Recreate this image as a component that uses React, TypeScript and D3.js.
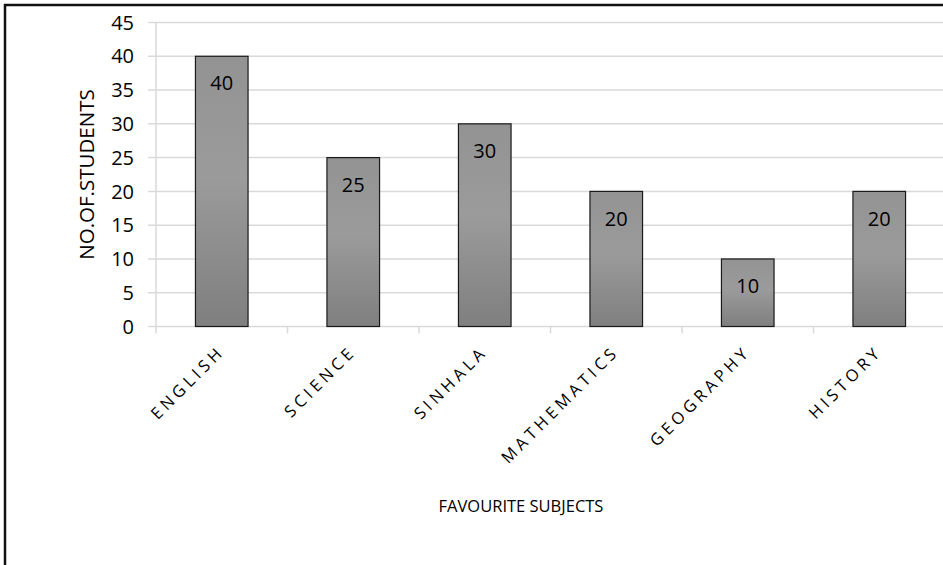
import React from "react";
import * as d3 from "d3";

const categories = ["ENGLISH", "SCIENCE", "SINHALA", "MATHEMATICS", "GEOGRAPHY", "HISTORY"];
const students = [40, 25, 30, 20, 10, 20];
const yTicks = [0, 5, 10, 15, 20, 25, 30, 35, 40, 45];
const xTitle = "FAVOURITE SUBJECTS";
const yTitle = "NO.OF.STUDENTS";

const W = 943;
const H = 565;
const FONT = "'Open Sans', 'Liberation Sans', sans-serif";

export default function App() {
  const left = 156;
  const right = 945;
  const top = 22.5;
  const bottom = 326.5;
  const x = d3.scaleBand<string>().domain(categories).range([left, right]).paddingInner(0.6).paddingOuter(0.3);
  const xb = d3.scaleBand<string>().domain(categories).range([left, right]);
  const y = d3.scaleLinear().domain([0, 45]).range([bottom, top]);
  const grid = "#d9d9d9";
  const ls = 4;

  return (
    <svg width={W} height={H} style={{ position: "fixed", left: 0, top: 0, background: "#fff" }} fontFamily={FONT}>
      <defs>
        <linearGradient id="barGrad" x1="0" y1="0" x2="0" y2="1">
          <stop offset="0%" stopColor="#939393" />
          <stop offset="45%" stopColor="#9b9b9b" />
          <stop offset="100%" stopColor="#7f7f7f" />
        </linearGradient>
      </defs>
      <rect x={0} y={0} width={W} height={H} fill="#fff" />
      {/* border */}
      <line x1={4} x2={W} y1={5} y2={5} stroke="#111" strokeWidth={2.5} />
      <line x1={5} x2={5} y1={4} y2={H} stroke="#111" strokeWidth={2.5} />

      {/* grid lines and y ticks */}
      {yTicks.map((t) => (
        <g key={t}>
          <line x1={148} x2={right} y1={y(t)} y2={y(t)} stroke={grid} strokeWidth={1.5} />
          <text x={134} y={y(t)} dy="0.36em" textAnchor="end" fontSize={20} fill="#000">
            {t}
          </text>
        </g>
      ))}
      <line x1={left} x2={left} y1={top} y2={bottom + 7} stroke={grid} strokeWidth={1.5} />
      {categories.map((c) => (
        <line key={"t" + c} x1={(xb(c) as number) + xb.bandwidth()} x2={(xb(c) as number) + xb.bandwidth()} y1={bottom} y2={bottom + 7} stroke={grid} strokeWidth={1.5} />
      ))}

      {/* bars */}
      {categories.map((c, i) => (
        <g key={c}>
          <rect
            x={x(c)}
            y={y(students[i])}
            width={x.bandwidth()}
            height={bottom - y(students[i])}
            fill="url(#barGrad)"
            stroke="#1a1a1a"
            strokeWidth={1.2}
          />
          <text
            x={(x(c) as number) + x.bandwidth() / 2}
            y={y(students[i]) + 27}
            dy="0.36em"
            textAnchor="middle"
            fontSize={20}
            fill="#000"
          >
            {students[i]}
          </text>
        </g>
      ))}

      {/* x labels */}
      {categories.map((c) => {
        const cx = (xb(c) as number) + xb.bandwidth() / 2 + 1 + ls * 0.707;
        const cy = bottom + 29 - ls * 0.707;
        return (
          <text
            key={"l" + c}
            transform={`translate(${cx},${cy}) rotate(-45)`}
            textAnchor="end"
            fontSize={16.5}
            letterSpacing={ls}
            fill="#000"
          >
            {c}
          </text>
        );
      })}

      <text x={521} y={506} dy="0.36em" textAnchor="middle" fontSize={16.5} fill="#000">
        {xTitle}
      </text>
      <text transform={`translate(87,${(top + bottom) / 2}) rotate(-90)`} dy="0.36em" textAnchor="middle" fontSize={20.5} fill="#000">
        {yTitle}
      </text>
    </svg>
  );
}
